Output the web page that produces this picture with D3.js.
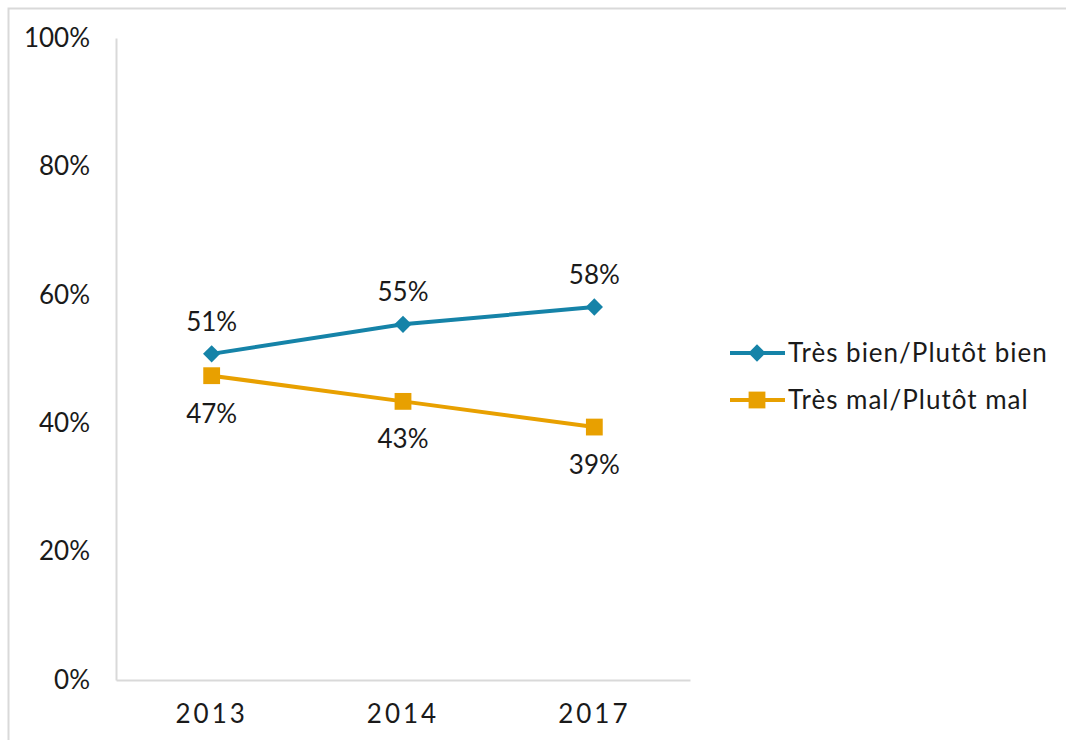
<!DOCTYPE html>
<html lang="fr">
  <head>
    <meta charset="UTF-8" />
    <script src="https://d3js.org/d3.v7.min.js"></script>
    <title></title>
    <style>
      body { margin: 0; background: #fff; }
      text { font-family: Lato, 'Open Sans', sans-serif; fill: #1a1a1a; }
    </style>
  </head>
  <body>
    <div id="my_dataviz"></div>
    <script>
      const years = ['2013', '2014', '2017']
      const bien = [50.8, 55.4, 58.1]
      const mal = [47.4, 43.4, 39.4]
      const yTicks = [0, 20, 40, 60, 80, 100]
      const seriesNames = ['Très bien/Plutôt bien', 'Très mal/Plutôt mal']
      const colors = ['#1583a8', '#e8a000']

      const width = 1066,
        height = 740
      const margin = { top: 38, left: 116, right: 376, bottom: 60 }
      const fontSize = '26px'

      const svg = d3
        .select('#my_dataviz')
        .append('svg')
        .attr('width', width)
        .attr('height', height)

      // chart border
      svg
        .append('rect')
        .attr('x', 8.5)
        .attr('y', 8.5)
        .attr('width', 1080)
        .attr('height', 760)
        .attr('fill', 'none')
        .attr('stroke', '#d9d9d9')
        .attr('stroke-width', 2)

      const x = d3
        .scaleBand()
        .domain(years)
        .range([margin.left, width - margin.right])
      const y = d3
        .scaleLinear()
        .domain([0, 100])
        .range([height - margin.bottom, margin.top])

      // Y axis
      const yAxis = svg
        .append('g')
        .attr('transform', `translate(${margin.left}, 0)`)
        .call(
          d3
            .axisLeft(y)
            .tickValues(yTicks)
            .tickSize(0)
            .tickPadding(26)
            .tickFormat(d => d + '%')
        )
      yAxis.select('.domain').attr('stroke', '#d9d9d9').attr('stroke-width', 2)
      yAxis.selectAll('text').style('font-size', fontSize).attr('fill', '#1a1a1a')

      // X axis
      const xAxis = svg
        .append('g')
        .attr('transform', `translate(0, ${y(0)})`)
        .call(d3.axisBottom(x).tickSize(0).tickPadding(25))
      xAxis.select('.domain').attr('stroke', '#d9d9d9').attr('stroke-width', 2)
      xAxis
        .selectAll('text')
        .style('font-size', fontSize)
        .style('letter-spacing', '3px')
        .attr('fill', '#1a1a1a')

      const cx = d => x(d) + x.bandwidth() / 2
      const line = d3
        .line()
        .x(d => cx(d[0]))
        .y(d => y(d[1]))

      const series = [bien, mal].map(vals => years.map((yr, i) => [yr, vals[i]]))
      const marker = i => d3.symbol(i === 0 ? d3.symbolDiamond2 : d3.symbolSquare2, i === 0 ? 190 : 360)()

      series.forEach((data, s) => {
        svg
          .append('path')
          .datum(data)
          .attr('d', line)
          .attr('stroke', colors[s])
          .attr('stroke-width', 4)
          .attr('fill', 'none')

        svg
          .append('g')
          .selectAll('path')
          .data(data)
          .join('path')
          .attr('transform', d => `translate(${cx(d[0])}, ${y(d[1])})`)
          .attr('d', marker(s))
          .attr('fill', colors[s])

        // data labels: above for the blue line, below for the orange one
        svg
          .append('g')
          .selectAll('text')
          .data(data)
          .join('text')
          .attr('x', d => cx(d[0]))
          .attr('y', d => y(d[1]) + (s === 0 ? -23 : 47))
          .attr('text-anchor', 'middle')
          .style('font-size', fontSize)
          .text(d => Math.round(d[1]) + '%')
      })

      // legend
      const legend = svg
        .append('g')
        .selectAll('g')
        .data(seriesNames)
        .join('g')
        .attr('transform', (d, i) => `translate(730, ${353 + i * 47})`)
      legend
        .append('line')
        .attr('x1', 0)
        .attr('x2', 55)
        .attr('stroke', (d, i) => colors[i])
        .attr('stroke-width', 4)
      legend
        .append('path')
        .attr('transform', 'translate(27, 0)')
        .attr('d', (d, i) => marker(i))
        .attr('fill', (d, i) => colors[i])
      legend
        .append('text')
        .attr('x', 58)
        .attr('dy', '0.35em')
        .style('font-size', fontSize)
        .style('letter-spacing', '1px')
        .text(d => d)
    </script>
  </body>
</html>
